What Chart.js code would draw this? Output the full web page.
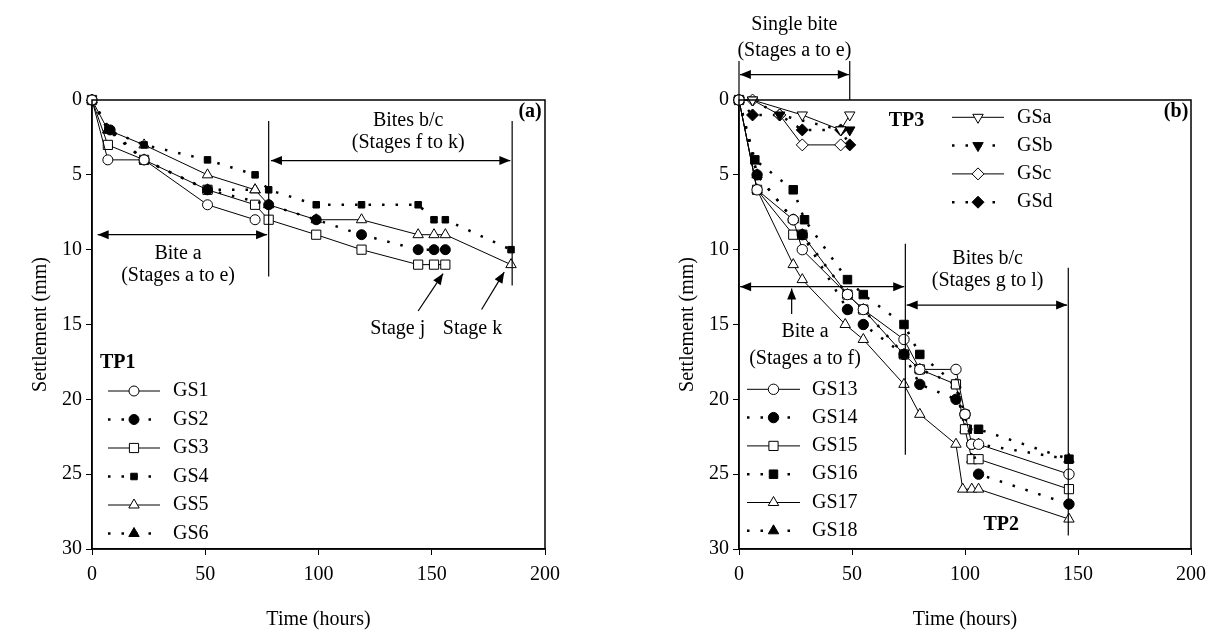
<!DOCTYPE html>
<html><head><meta charset="utf-8">
<script src="https://cdn.jsdelivr.net/npm/chart.js@4.4.1/dist/chart.umd.min.js"></script>
<style>
html,body{margin:0;padding:0;background:#fff;width:1215px;height:644px;overflow:hidden}
canvas{position:absolute;top:0}
#c1{left:0}
#c2{left:607px}
</style></head><body>
<canvas id="c1" width="607" height="644"></canvas>
<canvas id="c2" width="608" height="644"></canvas>
<script>
// ---------- DATA (panel a, TP1) ----------
const gs1Time = [0,7,23,51,72];
const gs1Settle = [0,4,4,7,8];
const gs2Time = [0,8,23,51,78,99,119,144,151,156];
const gs2Settle = [0,2,4,6,7,8,9,10,10,10];
const gs3Time = [0,7,23,51,72,78,99,119,144,151,156];
const gs3Settle = [0,3,4,6,7,8,9,10,11,11,11];
const gs4Time = [0,7,23,51,72,78,99,119,144,151,156,185];
const gs4Settle = [0,2,3,4,5,6,7,7,7,8,8,10];
const gs5Time = [0,7,23,51,72,78,99,119,144,151,156,185];
const gs5Settle = [0,2,3,5,6,7,8,8,9,9,9,11];
const gs6Time = [0,7,23,51,72];
const gs6Settle = [0,2,4,6,6];
// ---------- DATA (panel b, TP3) ----------
const gsaTime = [0,6,28,45,49];
const gsaSettle = [0,0,1,2,1];
const gsbTime = [0,6,18,45,49];
const gsbSettle = [0,0,1,2,2];
const gscTime = [0,6,18,28,45];
const gscSettle = [0,0,1,3,3];
const gsdTime = [0,6,18,28,45,49];
const gsdSettle = [0,1,1,2,2,3];
// ---------- DATA (panel b, TP2) ----------
const gs13Time = [0,8,24,28,48,55,73,80,96,100,103,106,146];
const gs13Settle = [0,6,8,10,13,14,16,18,18,21,23,23,25];
const gs14Time = [0,8,24,28,48,55,73,80,96,100,103,106,146];
const gs14Settle = [0,5,8,9,14,15,17,19,20,21,23,25,27];
const gs15Time = [0,8,24,28,48,55,73,80,96,100,103,106,146];
const gs15Settle = [0,6,9,9,13,14,17,18,19,22,24,24,26];
const gs16Time = [0,7,24,29,48,55,73,80,96,100,101,106,146];
const gs16Settle = [0,4,6,8,12,13,15,17,19,21,22,22,24];
const gs17Time = [0,8,24,28,47,55,73,80,96,99,103,106,146];
const gs17Settle = [0,6,11,12,15,16,19,21,23,26,26,26,28];
const gs18Time = [0,8,24,28,48,55,73,80,96,100,103,106,146];
const gs18Settle = [0,5,8,9,13,14,17,18,19,22,24,23,24];
// ---------- AXIS TICKS ----------
const timeTicks = [0,50,100,150,200];
const settleTicks = [0,5,10,15,20,25,30];

const FONT = "'Liberation Serif', 'Times New Roman', serif";
const DOT = [2.5, 11];

function series(label, t, s, style, dotted, filled, radius, rot) {
  return {
    label, data: t.map((x, i) => ({x, y: s[i]})),
    borderColor: '#000', borderWidth: dotted ? 2.5 : 1, borderDash: dotted ? DOT : [],
    pointStyle: style, pointRadius: radius, pointHoverRadius: radius, pointRotation: rot || 0,
    pointBackgroundColor: filled ? '#000' : '#fff', pointBorderColor: '#000', pointBorderWidth: 1,
    tension: 0, fill: false, clip: false
  };
}

function drawArrowHead(ctx, x0, y0, x1, y1) {
  const ang = Math.atan2(y1 - y0, x1 - x0), L = 11, W = 4.5;
  ctx.beginPath();
  ctx.moveTo(x1, y1);
  ctx.lineTo(x1 - L * Math.cos(ang) + W * Math.sin(ang), y1 - L * Math.sin(ang) - W * Math.cos(ang));
  ctx.lineTo(x1 - L * Math.cos(ang) - W * Math.sin(ang), y1 - L * Math.sin(ang) + W * Math.cos(ang));
  ctx.closePath(); ctx.fill();
}

const annoPlugin = {
  id: 'anno',
  afterDatasetsDraw(chart, args, o) {
    const ctx = chart.ctx, xs = chart.scales.x, ys = chart.scales.y, a = chart.chartArea;
    const X = v => xs.getPixelForValue(v), Y = v => ys.getPixelForValue(v);
    ctx.save();
    ctx.strokeStyle = '#000'; ctx.fillStyle = '#000';
    ctx.lineWidth = 1.5;
    ctx.strokeRect(a.left, a.top, a.right - a.left, a.bottom - a.top);
    ctx.lineWidth = 1.2;
    (o.vlines || []).forEach(l => {
      ctx.beginPath(); ctx.moveTo(X(l.t), Y(l.s0)); ctx.lineTo(X(l.t), Y(l.s1)); ctx.stroke();
    });
    (o.arrows || []).forEach(r => {
      const x0 = X(r.t0), y0 = Y(r.s0), x1 = X(r.t1), y1 = Y(r.s1);
      ctx.beginPath(); ctx.moveTo(x0, y0); ctx.lineTo(x1, y1); ctx.stroke();
      drawArrowHead(ctx, x0, y0, x1, y1);
      if (r.both) drawArrowHead(ctx, x1, y1, x0, y0);
    });
    ctx.textAlign = 'center'; ctx.textBaseline = 'middle';
    (o.texts || []).forEach(tx => {
      ctx.font = (tx.bold ? 'bold ' : '') + '20px ' + FONT;
      ctx.textAlign = tx.align || 'center';
      ctx.fillText(tx.text, X(tx.t), Y(tx.s));
    });
    (o.legends || []).forEach(lg => {
      const x0 = a.left + lg.dx, y0 = a.top + lg.dy;
      if (lg.title) {
        ctx.font = 'bold 20px ' + FONT; ctx.textAlign = 'left';
        ctx.fillText(lg.title, x0 + lg.titleDx, y0 - lg.row);
      }
      lg.items.forEach((idx, k) => {
        const d = chart.data.datasets[idx];
        const y = y0 + k * lg.row;
        ctx.save();
        ctx.lineWidth = d.borderWidth; ctx.setLineDash(d.borderDash);
        ctx.beginPath(); ctx.moveTo(x0, y); ctx.lineTo(x0 + lg.w, y); ctx.stroke();
        ctx.restore();
        ctx.save();
        ctx.fillStyle = d.pointBackgroundColor; ctx.strokeStyle = '#000'; ctx.lineWidth = 1;
        Chart.helpers.drawPoint(ctx, {pointStyle: d.pointStyle, radius: d.pointRadius, rotation: d.pointRotation, borderWidth: 1}, x0 + lg.w / 2, y);
        ctx.restore();
        ctx.font = '20px ' + FONT; ctx.textAlign = 'left'; ctx.fillStyle = '#000';
        ctx.fillText(d.label, x0 + lg.w + lg.gap, y);
      });
    });
    ctx.restore();
  }
};

function makeScales(yLeftPad) {
  return {
    x: {
      type: 'linear', min: 0, max: 200,
      afterBuildTicks: s => { s.ticks = timeTicks.map(v => ({value: v})); },
      afterFit: s => { s.height = 95; },
      grid: {display: true, drawOnChartArea: false, drawTicks: true, tickLength: 6, color: '#000', tickWidth: 1},
      border: {display: true, color: '#000', width: 1.5},
      ticks: {color: '#000', font: {family: FONT, size: 20}, padding: 8, maxRotation: 0},
      title: {display: true, text: 'Time (hours)', color: '#000', font: {family: FONT, size: 20}, padding: {top: 0, bottom: 12}}
    },
    y: {
      type: 'linear', min: 0, max: 30, reverse: true,
      afterBuildTicks: s => { s.ticks = settleTicks.map(v => ({value: v})); },
      afterFit: s => { s.width = yLeftPad; },
      grid: {display: true, drawOnChartArea: false, drawTicks: true, tickLength: 6, color: '#000', tickWidth: 1},
      border: {display: true, color: '#000', width: 1.5},
      ticks: {color: '#000', font: {family: FONT, size: 20}, padding: 4},
      title: {display: true, text: 'Settlement (mm)', color: '#000', font: {family: FONT, size: 20}, padding: {top: 4, bottom: 0}}
    }
  };
}

const commonOpts = {
  responsive: false, animation: false, devicePixelRatio: 1,
  plugins: {legend: {display: false}, tooltip: {enabled: false}},
  elements: {line: {borderCapStyle: 'butt'}}
};

// ---------- Panel (a) ----------
new Chart(document.getElementById('c1'), {
  type: 'line',
  data: {datasets: [
    series('GS1', gs1Time, gs1Settle, 'circle', false, false, 5),
    series('GS2', gs2Time, gs2Settle, 'circle', true, true, 5),
    series('GS3', gs3Time, gs3Settle, 'rect', false, false, 6.5),
    series('GS4', gs4Time, gs4Settle, 'rect', true, true, 4.6),
    series('GS5', gs5Time, gs5Settle, 'triangle', false, false, 6),
    series('GS6', gs6Time, gs6Settle, 'triangle', true, true, 6)
  ]},
  options: Object.assign({}, commonOpts, {
    layout: {padding: {left: 25, top: 100, right: 62, bottom: 0}},
    scales: makeScales(67),
    plugins: Object.assign({}, commonOpts.plugins, {
      anno: {
        vlines: [{t: 78, s0: 1.4, s1: 11.8}, {t: 185.5, s0: 1.4, s1: 12.4}],
        arrows: [
          {t0: 2.5, s0: 9, t1: 77.3, s1: 9, both: true},
          {t0: 79, s0: 4.05, t1: 184.7, s1: 4.05, both: true},
          {t0: 144, s0: 14.1, t1: 155, s1: 11.6},
          {t0: 172, s0: 14.0, t1: 182, s1: 11.5}
        ],
        texts: [
          {text: 'Bite a', t: 38, s: 10.3},
          {text: '(Stages a to e)', t: 38, s: 11.75},
          {text: 'Bites b/c', t: 139.6, s: 1.4},
          {text: '(Stages f to k)', t: 139.6, s: 2.85},
          {text: '(a)', t: 193.4, s: 0.8, bold: true},
          {text: 'Stage j', t: 135, s: 15.3},
          {text: 'Stage k', t: 168, s: 15.3}
        ],
        legends: [{dx: 16, dy: 291, row: 28.5, w: 52, gap: 13, items: [0,1,2,3,4,5], title: 'TP1', titleDx: -8}]
      }
    })
  }),
  plugins: [annoPlugin]
});

// ---------- Panel (b) ----------
new Chart(document.getElementById('c2'), {
  type: 'line',
  data: {datasets: [
    series('GS13', gs13Time, gs13Settle, 'circle', false, false, 5.2),
    series('GS14', gs14Time, gs14Settle, 'circle', true, true, 5.2),
    series('GS15', gs15Time, gs15Settle, 'rect', false, false, 6.5),
    series('GS16', gs16Time, gs16Settle, 'rect', true, true, 6),
    series('GS17', gs17Time, gs17Settle, 'triangle', false, false, 6),
    series('GS18', gs18Time, gs18Settle, 'triangle', true, true, 6),
    series('GSa', gsaTime, gsaSettle, 'triangle', false, false, 6, 180),
    series('GSb', gsbTime, gsbSettle, 'triangle', true, true, 6, 180),
    series('GSc', gscTime, gscSettle, 'rectRot', false, false, 6),
    series('GSd', gsdTime, gsdSettle, 'rectRot', true, true, 6)
  ]},
  options: Object.assign({}, commonOpts, {
    layout: {padding: {left: 65, top: 100, right: 24, bottom: 0}},
    scales: makeScales(67),
    plugins: Object.assign({}, commonOpts.plugins, {
      anno: {
        vlines: [
          {t: 0, s0: -2.6, s1: 0}, {t: 49, s0: -2.6, s1: 0},
          {t: 73.6, s0: 9.6, s1: 23.7}, {t: 145.7, s0: 11.2, s1: 29.1}
        ],
        arrows: [
          {t0: 0.4, s0: -1.7, t1: 48.6, s1: -1.7, both: true},
          {t0: 0.5, s0: 12.47, t1: 73.1, s1: 12.47, both: true},
          {t0: 74.2, s0: 13.7, t1: 145.2, s1: 13.7, both: true},
          {t0: 23.3, s0: 14.3, t1: 23.3, s1: 12.6}
        ],
        texts: [
          {text: 'Single bite', t: 24.5, s: -5},
          {text: '(Stages a to e)', t: 24.5, s: -3.3},
          {text: 'TP3', t: 74.1, s: 1.4, bold: true},
          {text: '(b)', t: 193.4, s: 0.8, bold: true},
          {text: 'Bites b/c', t: 110, s: 10.6},
          {text: '(Stages g to l)', t: 110, s: 12.1},
          {text: 'Bite a', t: 29.2, s: 15.5},
          {text: '(Stages a to f)', t: 29.2, s: 17.3},
          {text: 'TP2', t: 116, s: 28.4, bold: true}
        ],
        legends: [
          {dx: 8, dy: 289.3, row: 28.3, w: 53, gap: 12, items: [0,1,2,3,4,5]},
          {dx: 213, dy: 17.3, row: 28.3, w: 52, gap: 13, items: [6,7,8,9]}
        ]
      }
    })
  }),
  plugins: [annoPlugin]
});
</script>
</body></html>
